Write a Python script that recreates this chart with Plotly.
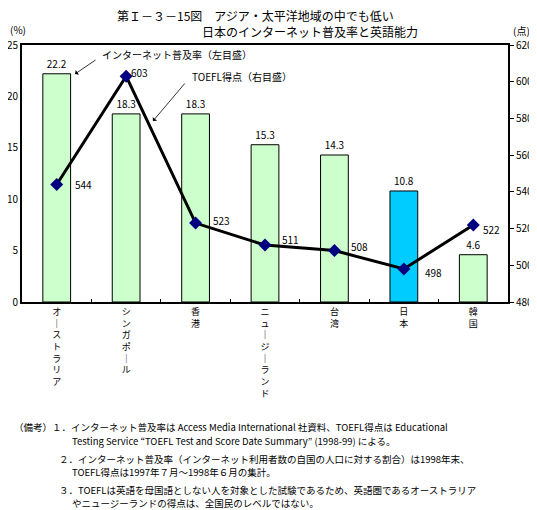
import plotly.graph_objects as go

categories = ["オーストラリア", "シンガポール", "香港", "ニュージーランド", "台湾", "日本", "韓国"]
internet_rate = [22.2, 18.3, 18.3, 15.3, 14.3, 10.8, 4.6]
toefl_score = [544, 603, 523, 511, 508, 498, 522]
bar_colors = ["#CCFFCC", "#CCFFCC", "#CCFFCC", "#CCFFCC", "#CCFFCC", "#00CCFF", "#CCFFCC"]
# pixel offsets (style) of the TOEFL labels from their markers
label_dx = [16, 3, 15, 15, 15, 19, 8]
label_dy = [0, 4, 3, 6, 4, -4, -5]

FONT = "Noto Sans CJK JP"

def vertical(s):
    return "<br>".join("｜" if c == "ー" else c for c in s)

fig = go.Figure()
fig.add_trace(go.Bar(
    x=categories, y=internet_rate, width=0.4,
    marker=dict(color=bar_colors, line=dict(color="black", width=1)),
    text=[f"{v:.1f}" for v in internet_rate], textposition="outside",
    textfont=dict(size=10, color="black", family=FONT), cliponaxis=False,
    showlegend=False,
))
fig.add_trace(go.Scatter(
    x=categories, y=toefl_score, yaxis="y2", mode="lines+markers",
    line=dict(color="black", width=3),
    marker=dict(symbol="diamond", size=10, color="#000080"),
    cliponaxis=False, showlegend=False,
))

# page body has an 8px margin; work in reference-image pixels and shift
OFF = 8
FW, FH = 537 - OFF, 510 - OFF
# plot area in reference pixels: x 22..508, y 45..302
L, R, T, B = 22, 508, 45, 302
W, H = R - L, B - T
def px(x): return (x - L) / W
def py(y): return (B - y) / H

annotations = []
for c, v, dx, dy in zip(categories, toefl_score, label_dx, label_dy):
    annotations.append(dict(xref="x", yref="y2", x=c, y=v, text=str(v), showarrow=False,
                            xanchor="left", yanchor="middle", xshift=dx, yshift=dy,
                            font=dict(size=10, family=FONT, color="black")))

def text(x, y, s, size=10, xanchor="left", yanchor="middle"):
    annotations.append(dict(xref="paper", yref="paper", x=px(x), y=py(y), text=s,
                            showarrow=False, xanchor=xanchor, yanchor=yanchor,
                            font=dict(size=size, family=FONT, color="black")))

def arrow(x0, y0, x1, y1):
    annotations.append(dict(xref="paper", yref="paper", x=px(x1), y=py(y1), text="",
                            showarrow=True, ax=x0 - x1, ay=y0 - y1, axref="pixel", ayref="pixel",
                            arrowhead=1, arrowsize=1.2, arrowwidth=0.8, arrowcolor="black"))

text(115, 16, "第Ｉ－３－15図　アジア・太平洋地域の中でも低い", size=12)
text(200, 32, "日本のインターネット普及率と英語能力", size=12)
text(8, 30, "(%)", size=10)
text(511, 31, "(点)", size=10)
text(100, 55, "インターネット普及率（左目盛）", size=10)
arrow(97, 59, 75, 74)
text(190, 76, "TOEFL得点（右目盛）", size=10)
arrow(186, 82, 153, 121)

notes = [
    (12, 427, "（備考）１．インターネット普及率は Access Media International 社資料、TOEFL得点は Educational"),
    (70, 441, "Testing Service “TOEFL Test and Score Date Summary” (1998-99) による。"),
    (57, 459, "２．インターネット普及率（インターネット利用者数の自国の人口に対する割合）は1998年末、"),
    (70, 472, "TOEFL得点は1997年７月～1998年６月の集計。"),
    (57, 490, "３．TOEFLは英語を母国語としない人を対象とした試験であるため、英語圏であるオーストラリア"),
    (70, 503, "やニュージーランドの得点は、全国民のレベルではない。"),
]
for x, y, s in notes:
    text(x, y, s, size=9.5)

fig.update_layout(
    width=FW, height=FH,
    margin=dict(l=L - OFF, r=FW - (R - OFF), t=T - OFF, b=FH - (B - OFF), autoexpand=False),
    paper_bgcolor="white", plot_bgcolor="white",
    font=dict(family=FONT, size=10, color="black"),
    bargap=0.6,
    xaxis=dict(tickvals=categories, ticktext=[vertical(c) for c in categories],
               showline=True, linecolor="black", linewidth=2, mirror=True,
               ticks="inside", ticklen=3, tickson="boundaries", tickcolor="black",
               tickfont=dict(size=9, family=FONT), showgrid=False, automargin=False),
    yaxis=dict(range=[0, 25], dtick=5, showgrid=False, zeroline=False,
               showline=True, linecolor="black", linewidth=2, mirror=True,
               ticks="", tickfont=dict(size=10), automargin=False),
    yaxis2=dict(range=[480, 620], dtick=20, overlaying="y", side="right",
                showgrid=False, zeroline=False, showline=True, linecolor="black", linewidth=2,
                ticks="outside", ticklen=4, tickcolor="black", tickfont=dict(size=10),
                automargin=False),
    annotations=annotations,
)

fig.write_html("out.html")
